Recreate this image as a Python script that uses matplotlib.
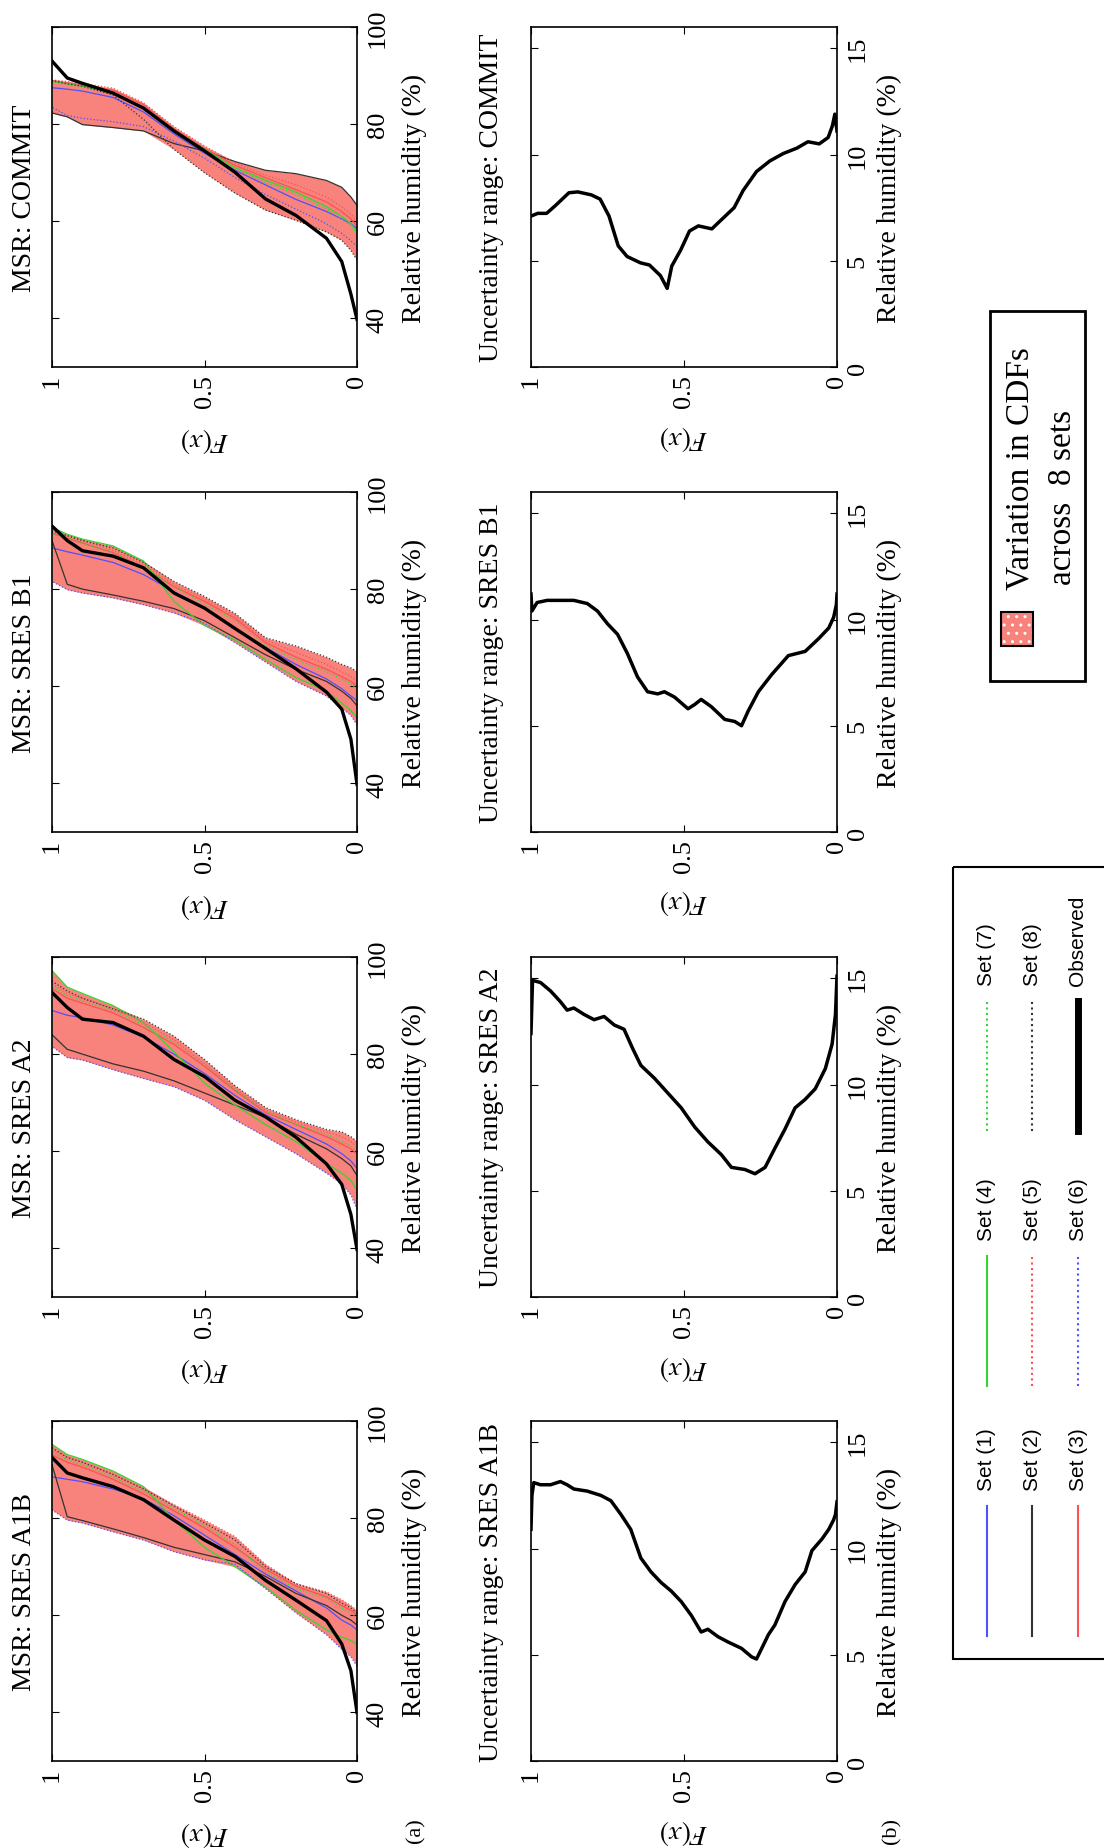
import numpy as np
import matplotlib
matplotlib.use('Agg')
import matplotlib.pyplot as plt
from matplotlib.patches import Rectangle

plt.rcParams['font.family'] = ['Liberation Serif', 'DejaVu Serif']
plt.rcParams['mathtext.fontset'] = 'stix'

W, H = 1104, 1849

f_levels = [0, 0.02, 0.05, 0.1, 0.2, 0.3, 0.4, 0.5, 0.6, 0.7, 0.8, 0.9, 0.95, 1.0]

# panels top to bottom (the figure is printed turned by 90 degrees)
scenarios = ['COMMIT', 'SRES B1', 'SRES A2', 'SRES A1B']

# relative humidity (%) of each set at f_levels
obs_commit = [39.8, 45, 51.7, 56.5, 61.2, 64.6, 70.1, 74.5, 78.6, 83.3, 86.4, 88.4, 89.5, 93]
sets_commit = [
    [58.5, 59.5, 60.5, 62, 64.5, 67.5, 70.5, 74, 78, 82.5, 85.5, 86.8, 87.2, 87.5],
    [63.3, 65, 67, 68.4, 69.8, 70.5, 72.3, 74.5, 76, 78.6, 79.3, 79.9, 81.5, 82.3],
    [59, 60.5, 62, 64, 66.5, 69, 71.5, 75, 79, 84, 87, 88, 88.5, 89],
    [58, 59.5, 61, 63, 66, 68.5, 71, 74.8, 78.8, 83.5, 86.5, 87.8, 88.3, 88.8],
    [60, 61.5, 63, 65, 67.5, 69.5, 72, 75.5, 79.5, 84.4, 87.4, 88.4, 88.8, 89.1],
    [54.8, 56, 57.5, 59.5, 62.5, 65.5, 69, 73, 76.5, 79.5, 80.5, 81.2, 81.8, 83.5],
    [57.5, 59, 60.5, 62.5, 65.5, 68, 71, 74.5, 78.5, 83, 86.5, 87.8, 88.2, 88.7],
    [52, 54, 56.1, 57.8, 60.2, 62.3, 65.8, 70, 74.8, 81, 86, 87.8, 88.3, 89],
]

obs_b1 = [39.8, 49.1, 55.3, 58.8, 63.6, 67.8, 71.9, 76.1, 79.2, 84.4, 86.8, 87.9, 90, 93]
sets_b1 = [
    [57, 58, 59.5, 61.5, 64.5, 68, 72, 76, 79.5, 83, 85.5, 87, 87.7, 88.5],
    [56, 57.5, 59, 61, 63.5, 66.5, 70, 73.5, 76, 77.5, 78.8, 80, 81, 90],
    [60, 61, 62, 63.5, 66, 69, 74, 77.5, 80.5, 84.5, 87.5, 89.5, 90.5, 91.5],
    [53.5, 55, 56.5, 59, 61.8, 65.5, 69.5, 72.5, 77.5, 85.8, 88.9, 90.3, 91.3, 92.7],
    [61, 62, 63, 64.5, 67, 69.5, 74.5, 78, 81, 85, 88, 90, 91, 92],
    [52, 54, 55.5, 58, 61, 65, 69, 73, 75.1, 76.8, 78.2, 79.2, 79.9, 81.6],
    [59.5, 60.5, 61.5, 63, 65.5, 68.5, 73.5, 77, 80.5, 84.5, 87.5, 89.5, 90.5, 91.5],
    [63, 63.8, 64.5, 66, 68.3, 70, 75, 78.5, 81.6, 85.5, 88.5, 90, 91, 92],
]

obs_a2 = [39.8, 47, 53.2, 57.4, 62.9, 67.1, 70.5, 75.4, 78.9, 83.7, 86.5, 87.2, 89.6, 92.7]
sets_a2 = [
    [56.5, 58, 59.5, 61.5, 64.5, 67.5, 71.5, 76, 80, 83.5, 86, 87.5, 88, 89],
    [55, 57, 58.5, 60.5, 63.5, 67, 69.5, 72, 74.5, 76.5, 78, 80, 81, 84],
    [59.5, 60.5, 61.5, 63, 65.5, 68, 72.5, 77.5, 82, 85.5, 88.5, 90.5, 91.5, 93.5],
    [52, 54, 55.5, 57.5, 62, 65.5, 69.5, 74, 80.5, 86.5, 90, 92.5, 93.8, 97.2],
    [61, 62, 63, 64, 66, 68.5, 73, 78, 83, 86.5, 89.5, 91.5, 92.5, 94.5],
    [48, 51, 53.3, 55.5, 59.5, 63, 66.5, 70.5, 73.3, 75, 76.8, 78.8, 79.3, 81.6],
    [60, 61, 62, 63.5, 65.5, 68.2, 72.8, 77.8, 82.5, 86, 89, 91, 92, 94],
    [62, 63, 64, 64.5, 66.5, 69, 73.5, 78.9, 83.7, 87.2, 89.3, 91.5, 93, 95],
]

obs_a1b = [40, 48.6, 54.1, 58.9, 63.1, 67.2, 72.1, 75.5, 79.6, 83.8, 86.5, 88.3, 89.3, 92.5]
sets_a1b = [
    [57, 58, 59, 61.5, 65, 68.5, 72.5, 76.5, 80.5, 84, 86, 87.5, 88, 88.5],
    [58, 59, 60, 62, 64.5, 68, 71, 72.5, 74, 76, 77.8, 79.5, 80.3, 91],
    [60, 61, 62, 63.8, 66, 69.5, 74, 78, 81.5, 85, 88, 90.5, 91.5, 93],
    [54, 54.8, 55.5, 57, 61, 65.8, 70, 74, 79.6, 86.5, 89.7, 92.1, 93.1, 95.2],
    [61, 62, 63.2, 64.8, 66.5, 70.5, 76.2, 79.6, 82.8, 86, 89, 91.5, 92.5, 94],
    [49.5, 51.5, 53, 56, 60.5, 65.5, 70.5, 71.4, 73.1, 75.5, 77.2, 79, 79.6, 81.7],
    [59.5, 60.5, 61.5, 63.5, 65.5, 69, 74.5, 78.5, 82, 85.5, 88.5, 91, 92, 93.5],
    [60.5, 61.5, 62.5, 64.5, 66.5, 70, 75.5, 79, 82.5, 86, 89, 91.5, 92.5, 94.5],
]

# uncertainty range (max - min RH over the 8 sets) against F(x)
unc_f_commit = [1.0, .978, .949, .920, .876, .847, .803, .774, .745, .715, .686, .642, .613, .577, .555, .540, .511,
                .482, .453, .409, .380, .336, .307, .263, .219, .175, .131, .095, .058, .029, .015, .007, 0]
unc_commit = [7.1, 7.23, 7.23, 7.6, 8.2, 8.24, 8.1, 7.9, 7.1, 5.7, 5.2, 4.9, 4.8, 4.3, 3.7, 4.75, 5.5,
              6.4, 6.64, 6.5, 6.9, 7.5, 8.3, 9.2, 9.7, 10.05, 10.3, 10.6, 10.5, 10.8, 11.35, 11.9, 11.1]

unc_f_b1 = [1.0, .997, .980, .947, .904, .860, .816, .783, .750, .717, .685, .652, .619, .586, .564, .531, .487,
            .465, .444, .411, .367, .334, .312, .290, .257, .214, .159, .104, .060, .027, .011, .002, 0]
unc_b1 = [11.2, 10.4, 10.8, 10.9, 10.9, 10.9, 10.75, 10.4, 9.8, 9.3, 8.4, 7.3, 6.6, 6.5, 6.6, 6.35, 5.8,
          6.0, 6.24, 5.9, 5.3, 5.2, 5.0, 5.7, 6.6, 7.4, 8.3, 8.5, 9.1, 9.6, 10.1, 10.7, 11.2]

unc_f_a2 = [1.0, .995, .969, .936, .904, .882, .860, .827, .794, .761, .728, .696, .668, .641, .597, .553, .509,
            .465, .422, .378, .345, .301, .268, .235, .203, .170, .137, .104, .071, .038, .016, .005, 0]
unc_a2 = [12.4, 14.9, 14.8, 14.4, 13.9, 13.5, 13.6, 13.3, 13.05, 13.2, 12.8, 12.6, 11.7, 10.9, 10.3, 9.6, 8.9,
          8.0, 7.3, 6.7, 6.1, 6.0, 5.8, 6.1, 7.0, 7.9, 8.9, 9.3, 9.8, 10.75, 11.9, 13.3, 15.1]

unc_f_a1b = [1.0, .997, .991, .969, .936, .904, .882, .860, .816, .772, .739, .706, .674, .641, .608, .575, .542,
             .509, .476, .444, .422, .389, .356, .312, .279, .263, .246, .224, .203, .170, .137, .104, .082,
             .049, .027, .011, .005, 0]
unc_a1b = [10.9, 12.5, 13.1, 13.0, 13.0, 13.15, 13.0, 12.8, 12.7, 12.5, 12.25, 11.6, 10.9, 9.55, 8.9, 8.4, 8.0,
           7.5, 6.85, 6.07, 6.2, 5.85, 5.6, 5.3, 4.9, 4.8, 5.3, 5.95, 6.4, 7.5, 8.3, 8.9, 9.9,
           10.45, 10.9, 11.35, 11.6, 12.2]

set_labels = ['Set (1)', 'Set (2)', 'Set (3)', 'Set (4)', 'Set (5)', 'Set (6)', 'Set (7)', 'Set (8)']
set_colors = ['#5050ff', '#333333', '#ff5050', '#33d633', '#ff5050', '#5050ff', '#33d633', '#333333']
set_styles = ['-', '-', '-', '-', ':', ':', ':', ':']
band_color = '#f7837c'

obs_all = [obs_commit, obs_b1, obs_a2, obs_a1b]
sets_all = [sets_commit, sets_b1, sets_a2, sets_a1b]
unc_f_all = [unc_f_commit, unc_f_b1, unc_f_a2, unc_f_a1b]
unc_all = [unc_commit, unc_b1, unc_a2, unc_a1b]

# layout in pixels
panel_tops = [28, 493, 958, 1422]
panel_h = 340
msr_x = (52, 357)
unc_x = (531, 837)

fig = plt.figure(figsize=(W / 100, H / 100), dpi=100)

# overlay in pixel coordinates for free text, legends
ov = fig.add_axes([0, 0, 1, 1])
ov.set_xlim(0, W)
ov.set_ylim(H, 0)
ov.axis('off')


def add_panel(xr, top):
    return fig.add_axes([xr[0] / W, 1 - (top + panel_h) / H, (xr[1] - xr[0]) / W, panel_h / H])


def style(ax, yticks, ylim):
    ax.set_xlim(1, 0)
    ax.set_ylim(*ylim)
    ax.set_xticks([1, 0.5, 0])
    ax.set_xticklabels(['1', '0.5', '0'])
    ax.set_yticks(yticks)
    ax.yaxis.tick_right()
    ax.tick_params(direction='in', length=5, width=0.8, top=True, bottom=True, left=True, right=True,
                   labelleft=False, labelright=True, labelsize=19)
    ax.tick_params(axis='x', pad=5)
    ax.tick_params(axis='y', pad=7)
    for lab in ax.get_xticklabels():
        lab.set_rotation(90)
    for lab in ax.get_yticklabels():
        lab.set_rotation(90)
        lab.set_va('center')
    for sp in ax.spines.values():
        sp.set_linewidth(1.2)


for k, name in enumerate(scenarios):
    top = panel_tops[k]
    cy = top + panel_h / 2

    # CDF panel
    ax = add_panel(msr_x, top)
    arr = np.array(sets_all[k])
    ax.fill_between(f_levels, arr.min(axis=0), arr.max(axis=0), color=band_color, lw=0, zorder=1)
    for s, c, ls in zip(sets_all[k], set_colors, set_styles):
        ax.plot(f_levels, s, color=c, ls=ls, lw=0.9, zorder=2)
    ax.plot(f_levels, obs_all[k], color='black', lw=2.4, zorder=3)
    style(ax, [40, 60, 80, 100], (30, 100))
    ov.text(25, cy, 'MSR: ' + name, rotation=90, ha='center', va='center', fontsize=20)
    ov.text(414, cy, 'Relative humidity (%)', rotation=90, ha='center', va='center', fontsize=20)
    ov.text((msr_x[0] + msr_x[1]) / 2, top + panel_h + 73, '$F(x)$', rotation=180,
            ha='center', va='center', fontsize=20)

    # uncertainty panel
    ax2 = add_panel(unc_x, top)
    ax2.plot(unc_f_all[k], unc_all[k], color='black', lw=2.5)
    style(ax2, [0, 5, 10, 15], (0, 16))
    ov.text(492, cy, 'Uncertainty range: ' + name, rotation=90, ha='center', va='center', fontsize=20)
    ov.text(889, cy, 'Relative humidity (%)', rotation=90, ha='center', va='center', fontsize=20)
    ov.text((unc_x[0] + unc_x[1]) / 2, top + panel_h + 70, '$F(x)$', rotation=180,
            ha='center', va='center', fontsize=20)

ov.text(416, 1831, '(a)', rotation=90, ha='center', va='center', fontsize=16)
ov.text(892, 1831, '(b)', rotation=90, ha='center', va='center', fontsize=16)

# legend for the sets
ov.add_patch(Rectangle((953, 868), 170, 792, fill=False, lw=1.5, ec='black', clip_on=False))
rows_x = [987, 1032, 1078]
cols_bottom = [1637, 1387, 1132]
leg_labels = set_labels + ['Observed']
leg_colors = set_colors + ['black']
leg_styles = set_styles + ['-']
for i, (lab, c, ls) in enumerate(zip(leg_labels, leg_colors, leg_styles)):
    x = rows_x[i % 3]
    yb = cols_bottom[i // 3]
    lw = 5 if lab == 'Observed' else 1.5
    ov.plot([x, x], [yb, yb - 130], color=c, ls=ls, lw=lw)
    ov.text(x, yb - 146, lab, rotation=90, rotation_mode='anchor', ha='left', va='center',
            fontsize=15, family='Liberation Sans')

# legend for the band
ov.add_patch(Rectangle((990, 312), 95, 370, fill=False, lw=2, ec='black'))
ov.add_patch(Rectangle((1001, 613), 32, 34, fc=band_color, ec='white', hatch='..', lw=0))
ov.add_patch(Rectangle((1001, 613), 32, 34, fill=False, ec='black', lw=1.5))
ov.text(1020, 590, 'Variation in CDFs', rotation=90, rotation_mode='anchor', ha='left', va='center', fontsize=24)
ov.text(1063, 585, 'across  8 sets', rotation=90, rotation_mode='anchor', ha='left', va='center', fontsize=24)

fig.savefig('out.png', dpi=100)
